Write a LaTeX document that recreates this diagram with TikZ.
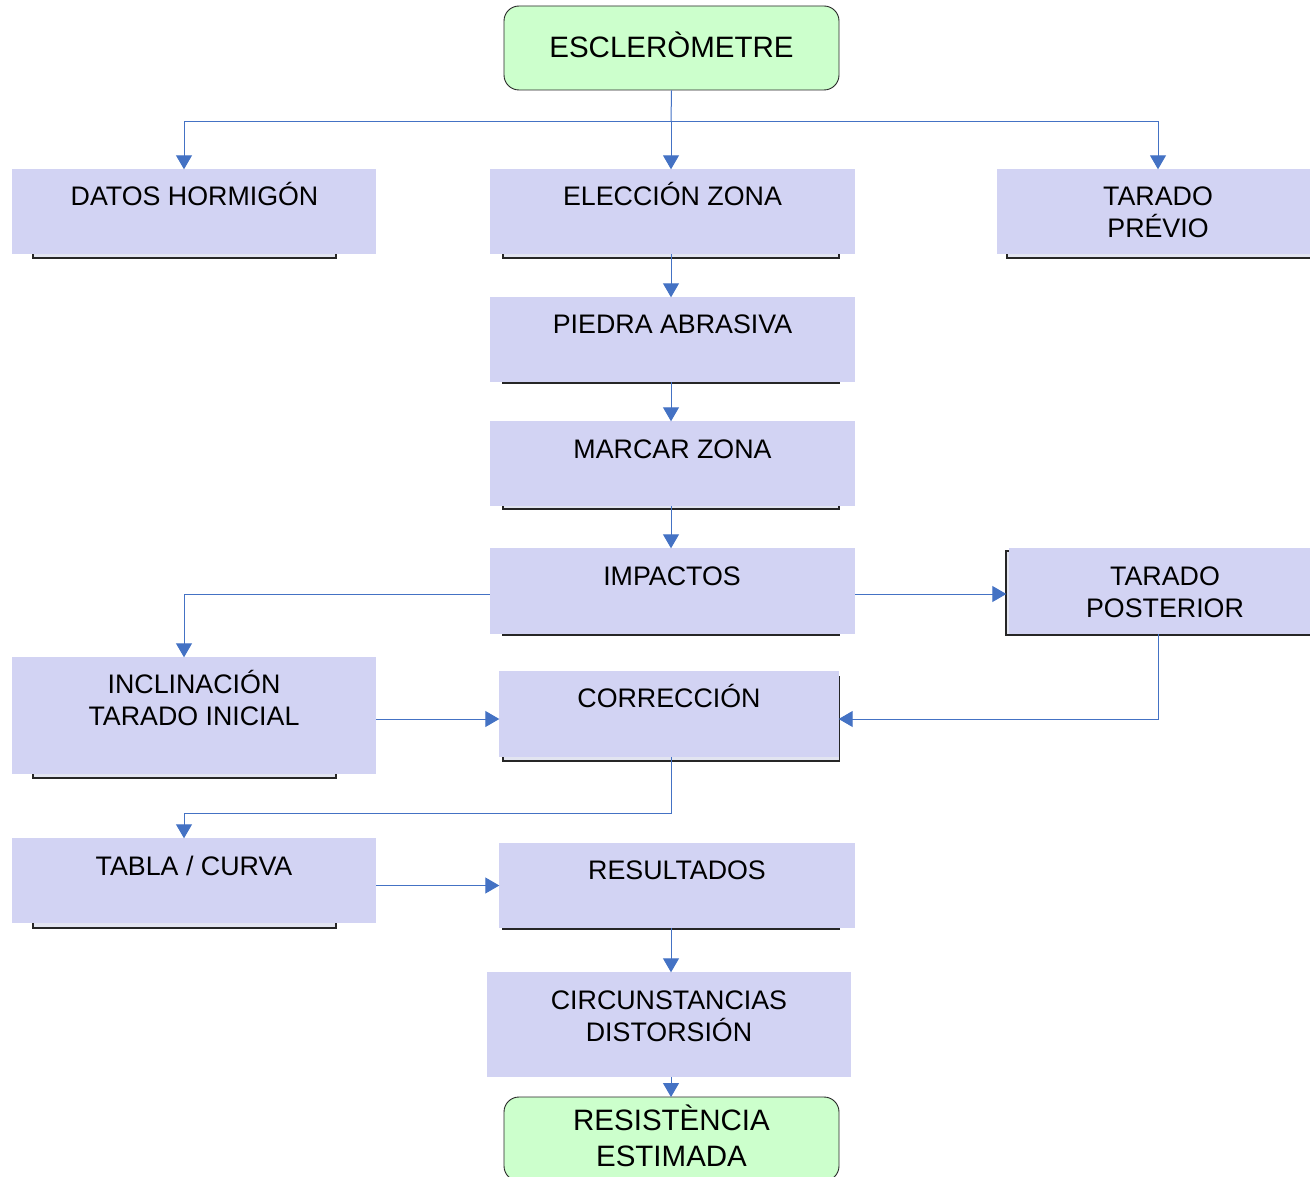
\documentclass[tikz,border=0pt]{standalone}
\usepackage{fontspec}
\setmainfont{Liberation Sans}
\usetikzlibrary{arrows.meta,calc}
\definecolor{lav}{RGB}{210,211,243}
\definecolor{mint}{RGB}{204,255,204}
\definecolor{conn}{RGB}{68,114,196}
\definecolor{backfill}{RGB}{226,228,240}
\tikzset{
  box/.style={rectangle, fill=lav, inner sep=0pt},
  endbox/.style={rectangle, rounded corners=15pt, draw=black!85, line width=0.9pt, fill=mint, inner sep=0pt},
  backrect/.style={draw=black!85, line width=1.2pt, fill=backfill},
  lbl/.style={anchor=base, align=center, inner sep=0pt, font=\fontsize{26.8}{32}\selectfont},
  biglbl/.style={anchor=base, align=center, inner sep=0pt, font=\fontsize{29.5}{36}\selectfont},
  line/.style={draw=conn, line width=1pt},
  arr/.style={draw=conn, line width=1pt, -{Triangle[length=14pt,width=16pt]}, shorten >=-0.5pt}
}
\begin{document}
\begin{tikzpicture}[x=1pt,y=-1pt]
\useasboundingbox (0,0) rectangle (1310,1177);
% shadow rectangles behind boxes
\draw[backrect] (33,200) rectangle (336,258);
\draw[backrect] (503,200) rectangle (839,258);
\draw[backrect] (1007,200) rectangle (1325,258);
\draw[backrect] (503,330) rectangle (839,383);
\draw[backrect] (503,460) rectangle (839,509);
\draw[backrect] (503,590) rectangle (839,635);
\draw[backrect] (1006,551) rectangle (1325,635);
\draw[backrect] (33,720) rectangle (336,778);
\draw[backrect] (503,677) rectangle (839.5,761);
\draw[backrect] (33,880) rectangle (336,928);
\draw[backrect] (503,890) rectangle (839,929);
% boxes
\node[endbox, minimum width=335pt, minimum height=84pt] (escl) at (671.5,48) {};
\node[box, minimum width=364pt, minimum height=85pt] (datos) at (194,211.5) {};
\node[box, minimum width=365pt, minimum height=85pt] (elec) at (672.5,211.5) {};
\node[box, minimum width=313pt, minimum height=85pt] (prev) at (1153.5,211.5) {};
\node[box, minimum width=365pt, minimum height=85pt] (piedra) at (672.5,339.5) {};
\node[box, minimum width=365pt, minimum height=85pt] (marcar) at (672.5,463.5) {};
\node[box, minimum width=365pt, minimum height=86pt] (imp) at (672.5,591) {};
\node[box, minimum width=301pt, minimum height=86pt] (post) at (1159.5,591) {};
\node[box, minimum width=364pt, minimum height=117pt] (incl) at (194,715.5) {};
\node[box, minimum width=340pt, minimum height=86pt] (corr) at (669,714) {};
\node[box, minimum width=364pt, minimum height=85pt] (tabla) at (194,880.5) {};
\node[box, minimum width=356pt, minimum height=85pt] (res) at (677,885.5) {};
\node[box, minimum width=364pt, minimum height=105pt] (circ) at (669,1024.5) {};
\node[endbox, minimum width=335pt, minimum height=84pt] (resist) at (671.5,1139) {};
% labels (base anchor = baseline of last line)
\node[biglbl] (t-escl) at (671.5,57.5) {ESCLERÒMETRE};
\node[lbl] (t-datos) at (194.5,205.5) {DATOS HORMIGÓN};
\node[lbl] (t-elec) at (672.5,205.5) {ELECCIÓN ZONA};
\node[lbl] (t-prev) at (1158,237.5) {TARADO\\PRÉVIO};
\node[lbl] (t-piedra) at (672.5,333.5) {PIEDRA ABRASIVA};
\node[lbl] (t-marcar) at (672.5,458.5) {MARCAR ZONA};
\node[lbl] (t-imp) at (672,585.5) {IMPACTOS};
\node[lbl] (t-post) at (1165,617.5) {TARADO\\POSTERIOR};
\node[lbl] (t-incl) at (194,725.5) {INCLINACIÓN\\TARADO INICIAL};
\node[lbl] (t-corr) at (669,707.5) {CORRECCIÓN};
\node[lbl] (t-tabla) at (194,875.5) {TABLA / CURVA};
\node[lbl] (t-res) at (677,879.5) {RESULTADOS};
\node[lbl] (t-circ) at (669,1041.5) {CIRCUNSTANCIAS\\DISTORSIÓN};
\node[biglbl] (t-resist) at (671.5,1166.5) {RESISTÈNCIA\\ESTIMADA};
% connectors
\coordinate (j1) at (671,122);
\coordinate (cy) at (0,719);
\draw[line] (escl.south) -- (j1);
\draw[arr] (j1) -| ([xshift=-10pt]datos.north);
\draw[arr] (j1) -- (j1 |- elec.north);
\draw[arr] (j1) -| ([xshift=4.5pt]prev.north);
\draw[arr] ([xshift=-1.5pt]elec.south) -- ([xshift=-1.5pt]piedra.north);
\draw[arr] ([xshift=-1.5pt]piedra.south) -- ([xshift=-1.5pt]marcar.north);
\draw[arr] ([xshift=-1.5pt]marcar.south) -- ([xshift=-1.5pt]imp.north);
\draw[arr] ([yshift=-3pt]imp.west) -| ([xshift=-10pt]incl.north);
\draw[arr] ([yshift=-3pt]imp.east) -- ([xshift=-3pt,yshift=-3pt]post.west);
\draw[arr] ([xshift=-1.5pt]post.south) |- (corr.east |- cy);
\draw[arr] (incl.east |- cy) -- (corr.west |- cy);
\draw[arr] ([xshift=2pt]corr.south) -- ++(0,56) -| ([xshift=-10pt]tabla.north);
\draw[arr] (tabla.east |- res.west) -- (res.west);
\draw[arr] (res.south -| j1) -- (circ.north -| j1);
\draw[arr] (circ.south -| j1) -- (resist.north -| j1);
\end{tikzpicture}
\end{document}
